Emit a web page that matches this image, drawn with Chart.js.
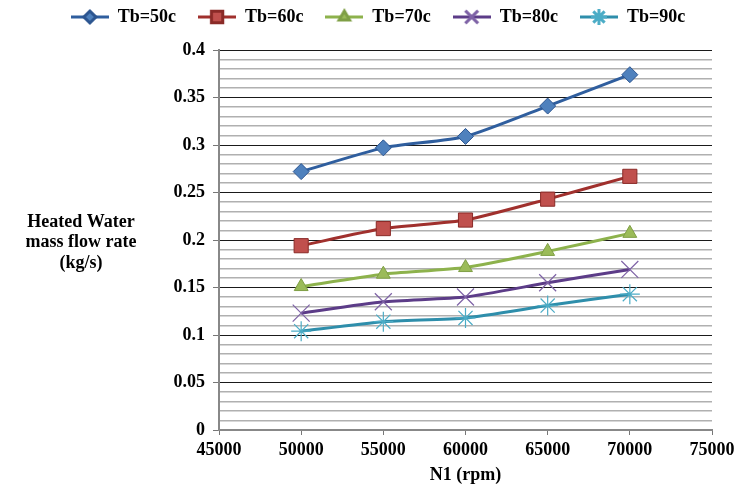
<!DOCTYPE html>
<html>
<head>
<meta charset="utf-8">
<script src="https://cdn.jsdelivr.net/npm/chart.js@4"></script>
<style>
  html, body { margin: 0; padding: 0; background: #fff; }
  #wrap { width: 744px; height: 487px; }
</style>
</head>
<body>
<div id="wrap"><canvas id="flowChart" width="744" height="487"></canvas></div>
<script>
// rotational speed N1 (rpm)
const speeds = [50000, 55000, 60000, 65000, 70000];

// heated water mass flow rate (kg/s) for each boiler temperature
const tb50 = [0.272, 0.297, 0.309, 0.341, 0.374];
const tb60 = [0.194, 0.212, 0.221, 0.243, 0.267];
const tb70 = [0.151, 0.164, 0.171, 0.188, 0.207];
const tb80 = [0.123, 0.135, 0.140, 0.155, 0.169];
const tb90 = [0.104, 0.114, 0.118, 0.131, 0.143];

const seriesNames = ['Tb=50c', 'Tb=60c', 'Tb=70c', 'Tb=80c', 'Tb=90c'];
const yTitleLines = ['Heated Water', 'mass flow rate', '(kg/s)'];

const FONT = '"Liberation Serif", "Times New Roman", serif';

// look of each series (Excel 2007 palette)
const styles = [
    { line: '#2f5e9e', fill: '#4f81bd', border: '#2c5590', point: 'rectRot', radius: 8, bw: 1 },
    { line: '#a0302d', fill: '#c0504d', border: '#8a2a27', point: 'rect', radius: 10, bw: 1 },
    { line: '#8db24c', fill: '#9bbb59', border: '#7f9f45', point: 'triangle', radius: 8, bw: 1 },
    { line: '#5c3c88', fill: 'rgba(0,0,0,0)', border: '#7e62a6', point: 'crossRot', radius: 12, bw: 1.2 },
    { line: '#2e8eab', fill: 'rgba(0,0,0,0)', border: '#4bacc6', point: 'star', radius: 10, bw: 1.2 }
];

function toPoints(values) {
    return values.map((v, i) => ({ x: speeds[i], y: v }));
}

// small picture of line + marker for the legend
function legendImage(st) {
    const c = document.createElement('canvas');
    c.width = 38;
    c.height = 20;
    const g = c.getContext('2d');
    g.strokeStyle = st.line;
    g.lineWidth = 3;
    g.beginPath();
    g.moveTo(0, 10);
    g.lineTo(38, 10);
    g.stroke();
    g.fillStyle = st.fill;
    g.strokeStyle = st.border;
    Chart.helpers.drawPoint(g, {
        pointStyle: st.point,
        radius: Math.round(st.radius * 0.75),
        rotation: 0,
        borderWidth: st.bw
    }, 19, 10);
    return c;
}

const yTitlePlugin = {
    id: 'yTitle',
    afterDraw(chart) {
        const ctx = chart.ctx;
        ctx.save();
        ctx.font = 'bold 18px ' + FONT;
        ctx.fillStyle = '#000';
        ctx.textAlign = 'center';
        ctx.textBaseline = 'middle';
        yTitleLines.forEach((t, i) => ctx.fillText(t, 81, 222 + i * 20.5));
        ctx.restore();
    }
};

// keep the gap between legend items but put more room under the legend
const legendRoom = {
    id: 'legendRoom',
    beforeInit(chart) {
        const fit = chart.legend.fit;
        chart.legend.fit = function () {
            fit.bind(chart.legend)();
            this.height += 14;
        };
    }
};

const allValues = [tb50, tb60, tb70, tb80, tb90];

const datasets = allValues.map((vals, i) => ({
    label: seriesNames[i],
    data: toPoints(vals),
    borderColor: styles[i].line,
    borderWidth: 3,
    tension: 0.2,
    pointStyle: styles[i].point,
    pointRadius: styles[i].radius,
    pointHoverRadius: styles[i].radius,
    pointBackgroundColor: styles[i].fill,
    pointBorderColor: styles[i].border,
    pointBorderWidth: styles[i].bw,
    fill: false
}));

function isMajor(v) {
    return Math.round(v * 100) % 5 === 0;
}

new Chart(document.getElementById('flowChart'), {
    type: 'line',
    data: { datasets: datasets },
    options: {
        responsive: false,
        animation: false,
        layout: { padding: { left: 44, right: 32, top: -14, bottom: 0 } },
        font: { family: FONT },
        scales: {
            x: {
                type: 'linear',
                min: 45000,
                max: 75000,
                afterFit: (scale) => { scale.height = 57; },
                ticks: {
                    stepSize: 5000,
                    padding: 5,
                    color: '#000',
                    font: { family: FONT, size: 18, weight: 'bold' },
                    callback: (v) => String(v)
                },
                grid: {
                    drawOnChartArea: false,
                    tickLength: 5,
                    tickColor: '#777'
                },
                border: { color: '#888', width: 2 },
                title: {
                    display: true,
                    text: 'N1 (rpm)',
                    color: '#000',
                    font: { family: FONT, size: 18, weight: 'bold' },
                    padding: { top: 0, bottom: 1 }
                }
            },
            y: {
                min: 0,
                max: 0.4,
                afterFit: (scale) => { scale.width = 175; },
                ticks: {
                    stepSize: 0.01,
                    autoSkip: false,
                    padding: 8,
                    color: '#000',
                    font: { family: FONT, size: 18, weight: 'bold' },
                    callback: (v) => isMajor(v) ? String(Math.round(v * 100) / 100) : ''
                },
                grid: {
                    tickLength: 6,
                    color: (c) => isMajor(c.tick.value) ? '#1a1a1a' : '#b0b0b0',
                    lineWidth: (c) => isMajor(c.tick.value) ? 1 : 1.5,
                    tickColor: (c) => isMajor(c.tick.value) ? '#777' : 'rgba(0,0,0,0)'
                },
                border: { color: '#888', width: 2 }
            }
        },
        plugins: {
            legend: {
                position: 'top',
                labels: {
                    usePointStyle: true,
                    pointStyleWidth: 38,
                    padding: 22,
                    color: '#000',
                    font: { family: FONT, size: 18, weight: 'bold' },
                    generateLabels: (chart) => chart.data.datasets.map((ds, i) => ({
                        text: ds.label,
                        datasetIndex: i,
                        pointStyle: legendImage(styles[i]),
                        fillStyle: styles[i].fill,
                        strokeStyle: styles[i].line,
                        lineWidth: 0,
                        hidden: false
                    }))
                }
            },
            tooltip: { enabled: false }
        }
    },
    plugins: [yTitlePlugin, legendRoom]
});
</script>
</body>
</html>
